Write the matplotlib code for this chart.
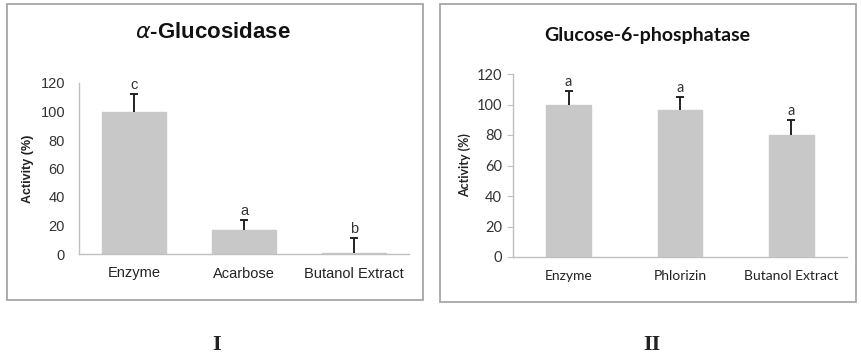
import matplotlib.pyplot as plt
from matplotlib.patches import Rectangle

# panel I: alpha-glucosidase
cats1 = ["Enzyme", "Acarbose", "Butanol Extract"]
vals1 = [100, 17, 1]
errs1 = [12, 7, 10]
sig1 = ["c", "a", "b"]

# panel II: glucose-6-phosphatase
cats2 = ["Enzyme", "Phlorizin", "Butanol Extract"]
vals2 = [100, 96.5, 80]
errs2 = [9, 8.5, 10]
sig2 = ["a", "a", "a"]

yticks = [0, 20, 40, 60, 80, 100, 120]

W, H = 861, 357
fig = plt.figure(figsize=(W / 100, H / 100), dpi=100)

def fx(px):
    return px / W

def fy(py):
    return 1 - py / H

# panel frames
for x0, x1, y1 in [(7, 423, 300), (440, 856, 302)]:
    fig.patches.append(Rectangle((fx(x0), fy(y1)), fx(x1 - x0), (y1 - 4) / H,
                                 transform=fig.transFigure, fill=False,
                                 edgecolor="#a6a6a6", linewidth=1.3))

bar_col = "#c8c8c8"
axis_col = "#c0c0c0"

def draw(ax, cats, vals, errs, sig, width, font, tick_len, label_size, tick_size, sig_off):
    x = list(range(len(cats)))
    ax.bar(x, vals, width=width, color=bar_col, edgecolor=bar_col, zorder=2)
    tops = [v + e for v, e in zip(vals, errs)]
    # upper half error bars only
    ax.vlines(x, vals, tops, colors="#222222", linewidth=1.4, zorder=3)
    ax.plot(x, tops, ls="none", marker="_", ms=5.5, mew=1.4, color="#222222", zorder=3)
    for i, (t, s) in enumerate(zip(tops, sig)):
        ax.text(i, t + sig_off, s, ha="center", va="bottom", fontsize=10.5,
                family=font, color="#333333")
    ax.set_xlim(-0.5, len(cats) - 0.5)
    ax.set_ylim(0, 120)
    ax.set_yticks(yticks)
    ax.set_xticks(x)
    ax.set_xticklabels(cats, family=font, fontsize=label_size, color="#222222")
    ax.tick_params(axis="x", length=0, pad=9)
    ax.tick_params(axis="y", length=tick_len, color=axis_col, labelsize=tick_size,
                   labelcolor="#333333", pad=4 if tick_len else 10)
    for lab in ax.get_yticklabels():
        lab.set_family(font)
    for sp in ["top", "right"]:
        ax.spines[sp].set_visible(False)
    for sp in ["left", "bottom"]:
        ax.spines[sp].set_color(axis_col)
        ax.spines[sp].set_linewidth(1.0)
    ax.set_ylabel("Activity (%)", family=font, fontsize=9, fontweight="bold",
                  color="#222222")

ax1 = fig.add_axes([fx(79), fy(254), fx(409 - 79), (254 - 83) / H])
draw(ax1, cats1, vals1, errs1, sig1, 0.58, "Liberation Sans", 0, 10.5, 10.5, 1.5)
ax1.yaxis.set_label_coords(-0.135, 0.5)
fig.text(fx(213), fy(33), r"$\alpha$-Glucosidase", ha="center", va="center",
         fontsize=16, fontweight="bold", family="Liberation Sans", color="#111111")

ax2 = fig.add_axes([fx(513), fy(257), fx(847 - 513), (257 - 74) / H])
draw(ax2, cats2, vals2, errs2, sig2, 0.40, "Lato", 4, 10, 10.5, 1)
ax2.yaxis.set_label_coords(-0.125, 0.5)
fig.text(fx(647), fy(35), "Glucose-6-phosphatase", ha="center", va="center",
         fontsize=14, fontweight="bold", family="Lato", color="#111111")

fig.text(fx(217), fy(345), "I", ha="center", va="center", fontsize=16,
         fontweight="bold", family="Liberation Serif", color="#222222")
fig.text(fx(652), fy(345), "II", ha="center", va="center", fontsize=16,
         fontweight="bold", family="Liberation Serif", color="#222222")

fig.savefig("out.png", dpi=100, facecolor="white")
